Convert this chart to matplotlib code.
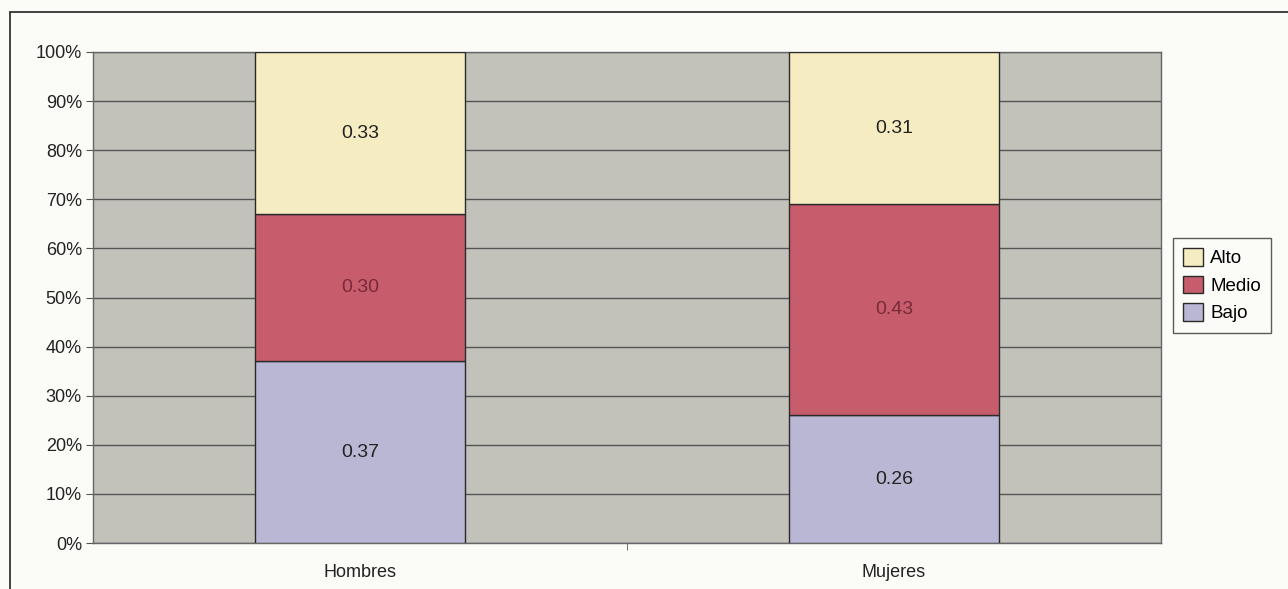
import matplotlib.pyplot as plt
import matplotlib.patches as mpatches
from matplotlib.ticker import PercentFormatter

# niveles por sexo (proporciones)
categorias = ["Hombres", "Mujeres"]
niveles = ["Bajo", "Medio", "Alto"]
bajo = [0.37, 0.26]
medio = [0.30, 0.43]
alto = [0.33, 0.31]

colores = {"Bajo": "#bab7d4", "Medio": "#c65c6c", "Alto": "#f6ecc2"}
color_texto = {"Bajo": "#222222", "Medio": "#7a2a38", "Alto": "#222222"}

plt.rcParams["font.family"] = ["Liberation Sans", "DejaVu Sans"]

fig = plt.figure(figsize=(12.88, 5.89), dpi=100)
fig.patch.set_facecolor("#fbfbf7")
ax = fig.add_axes([93 / 1288, 46 / 589, 1068 / 1288, 491 / 589])
ax.set_facecolor("#c2c2bb")

# marco exterior del grafico
arriba = 1 - 12 / 589
fig.patches.append(mpatches.Rectangle((10 / 1288, -0.01), 1.0, arriba + 0.01,
                                      transform=fig.transFigure, fill=False,
                                      edgecolor="#333333", linewidth=1.3))

x = range(len(categorias))
ancho = 0.395
base = [0.0] * len(categorias)
for nivel, vals in zip(niveles, [bajo, medio, alto]):
    ax.bar(x, vals, width=ancho, bottom=base, color=colores[nivel],
           edgecolor="#2a2a2a", linewidth=1.0, zorder=3, label=nivel)
    for i, v in enumerate(vals):
        ax.text(i, base[i] + v / 2, f"{v:.2f}", ha="center", va="center",
                fontsize=14, color=color_texto[nivel], zorder=4)
    base = [b + v for b, v in zip(base, vals)]

ax.set_xlim(-0.5, 1.5)
ax.set_ylim(0, 1)
ax.set_yticks([i / 10 for i in range(11)])
ax.yaxis.set_major_formatter(PercentFormatter(1.0, decimals=0))
ax.set_xticks(list(x))
ax.set_xticklabels(categorias)
ax.set_xticks([0.5], minor=True)
ax.tick_params(axis="x", which="major", length=0, pad=15, labelsize=13, colors="#222222")
ax.tick_params(axis="x", which="minor", length=5, direction="out", color="#555555")
ax.tick_params(axis="y", length=5, direction="out", labelsize=13, color="#555555",
               labelcolor="#222222", pad=3)
ax.grid(axis="y", color="#555555", linewidth=1.0, zorder=1)
ax.set_axisbelow(True)
for s in ax.spines.values():
    s.set_color("#666666")
    s.set_linewidth(1.0)

handles = [mpatches.Patch(facecolor=colores[n], edgecolor="#2a2a2a", label=n)
           for n in ["Alto", "Medio", "Bajo"]]
leg = ax.legend(handles=handles, loc="center left", bbox_to_anchor=(1.011, 0.525),
                frameon=True, fancybox=False, edgecolor="#333333", fontsize=13.5,
                handlelength=1.05, handleheight=1.05, handletextpad=0.4,
                borderpad=0.55, labelspacing=0.45, borderaxespad=0)
leg.get_frame().set_linewidth(1.0)
leg.get_frame().set_facecolor("#fbfbf7")

fig.savefig("out.png", dpi=100, facecolor=fig.get_facecolor())
